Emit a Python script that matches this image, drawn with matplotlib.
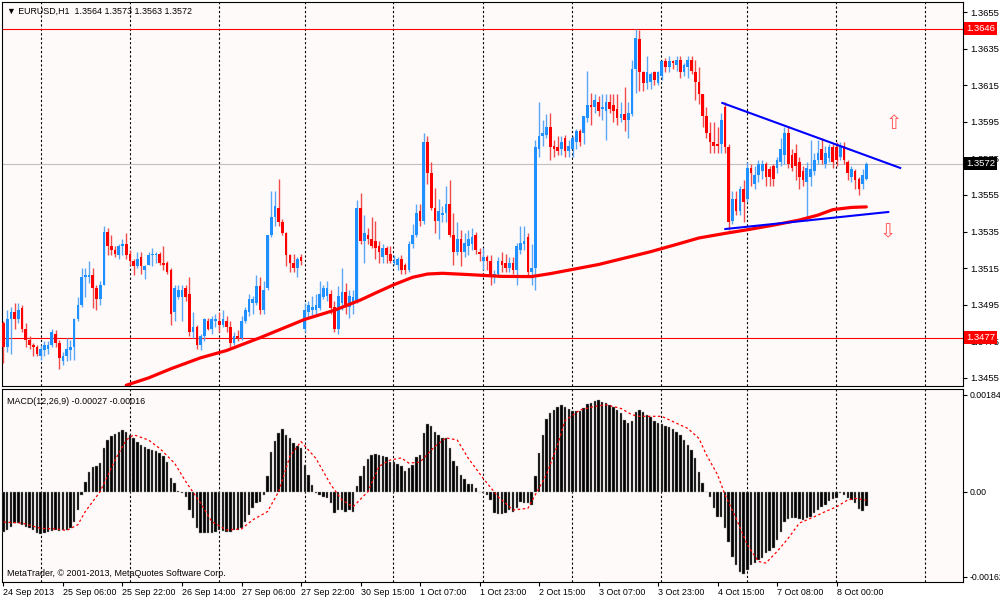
import numpy as np
import matplotlib
matplotlib.use("Agg")
import matplotlib.pyplot as plt
import matplotlib.transforms as mtransforms

plt.rcParams["font.family"] = ["Liberation Sans", "DejaVu Sans"]

# EURUSD H1, prices are written in pips above 1.3400
base = 1.3400

opens = [85, 72, 87, 91, 87, 93, 82, 76, 73, 72, 67, 70, 71, 73, 79, 74, 64, 67, 70, 72,
         87, 95, 110, 110, 111, 104, 98, 106, 135, 127, 125, 122, 127, 128, 123, 119, 116, 121, 114, 117,
         122, 122, 123, 118, 118, 114, 91, 99, 99, 104, 101, 80, 83, 73, 78, 86, 82, 86, 86, 84,
         86, 83, 74, 78, 77, 86, 91, 96, 96, 105, 92, 104, 133, 143, 148, 140, 134, 122, 118, 115,
         121, 82, 91, 92, 92, 93, 99, 100, 101, 94, 82, 96, 102, 94, 96, 97, 148, 130, 133, 131,
         130, 127, 121, 126, 123, 118, 117, 120, 117, 114, 128, 133, 146, 141, 184, 167, 148, 141, 144, 145,
         150, 133, 124, 131, 124, 127, 128, 133, 124, 119, 121, 119, 110, 112, 119, 118, 115, 118, 114, 125,
         128, 132, 113, 115, 180, 187, 188, 192, 182, 181, 180, 186, 179, 180, 184, 190, 189, 197, 204, 203,
         206, 202, 201, 206, 204, 202, 197, 199, 196, 199, 224, 240, 222, 216, 217, 222, 216, 220, 228, 225,
         228, 226, 229, 222, 225, 229, 222, 217, 210, 198, 189, 184, 183, 183, 203, 181, 141, 153, 146, 158,
         153, 170, 161, 166, 168, 172, 169, 171, 170, 173, 177, 189, 177, 178, 173, 168, 162, 165, 168, 174,
         180, 172, 175, 181, 181, 176, 182, 173, 165, 168, 164, 161, 164]
highs = [86, 92, 94, 96, 96, 95, 85, 78, 74, 73, 73, 75, 75, 82, 81, 76, 69, 77, 76, 88,
         99, 115, 115, 119, 115, 106, 108, 138, 137, 133, 127, 128, 131, 134, 125, 120, 124, 124, 117, 124,
         126, 124, 124, 127, 119, 115, 106, 106, 106, 106, 110, 91, 84, 79, 88, 88, 89, 90, 91, 92,
         89, 86, 80, 81, 89, 94, 101, 100, 111, 110, 108, 133, 157, 157, 164, 142, 135, 123, 123, 121,
         123, 96, 97, 100, 101, 108, 106, 108, 103, 97, 105, 115, 107, 103, 103, 152, 156, 144, 137, 143,
         141, 130, 128, 127, 127, 122, 121, 122, 118, 130, 139, 150, 150, 189, 187, 173, 159, 153, 149, 160,
         163, 145, 140, 136, 134, 136, 137, 135, 126, 126, 122, 122, 114, 121, 124, 123, 121, 121, 129, 138,
         138, 134, 128, 185, 206, 196, 199, 200, 185, 187, 187, 188, 185, 187, 191, 191, 198, 223, 211, 210,
         209, 210, 210, 210, 210, 210, 206, 214, 206, 229, 246, 245, 223, 231, 222, 223, 223, 229, 230, 231,
         229, 231, 231, 227, 231, 231, 229, 225, 210, 203, 195, 195, 192, 200, 206, 183, 157, 157, 160, 163,
         173, 172, 171, 174, 174, 173, 171, 172, 176, 186, 192, 192, 180, 183, 176, 171, 173, 185, 178, 185,
         186, 182, 183, 183, 184, 184, 184, 174, 171, 169, 165, 169, 173]
lows = [63, 69, 68, 82, 85, 80, 72, 71, 67, 67, 65, 67, 68, 72, 72, 60, 62, 64, 65, 65,
        86, 94, 99, 107, 93, 92, 95, 106, 122, 122, 121, 120, 122, 120, 117, 111, 115, 112, 109, 117,
        116, 118, 117, 114, 112, 84, 86, 98, 86, 97, 78, 77, 71, 70, 75, 81, 79, 83, 80, 83,
        80, 72, 73, 75, 76, 85, 89, 90, 95, 90, 90, 103, 132, 138, 138, 133, 116, 113, 113, 110,
        117, 80, 88, 89, 89, 92, 98, 97, 90, 80, 79, 92, 90, 88, 90, 96, 128, 118, 128, 126,
        120, 118, 118, 118, 118, 117, 114, 112, 112, 113, 126, 132, 138, 139, 161, 147, 134, 131, 140, 140,
        132, 117, 122, 116, 121, 122, 125, 123, 119, 114, 114, 106, 107, 110, 113, 113, 113, 112, 106, 123,
        125, 110, 106, 103, 176, 182, 186, 174, 176, 177, 177, 176, 176, 176, 180, 182, 183, 195, 193, 200,
        198, 196, 185, 200, 195, 193, 195, 190, 186, 198, 211, 212, 212, 213, 213, 215, 215, 218, 222, 222,
        224, 223, 219, 220, 219, 221, 207, 205, 192, 186, 178, 178, 178, 178, 178, 136, 139, 144, 144, 140,
        151, 160, 158, 162, 164, 160, 160, 160, 167, 171, 172, 170, 168, 163, 158, 160, 141, 160, 166, 172,
        172, 170, 173, 170, 171, 174, 172, 163, 162, 158, 155, 158, 163]
closes = [72, 87, 91, 87, 92, 82, 76, 73, 72, 68, 71, 73, 73, 80, 74, 66, 67, 71, 72, 87,
          95, 110, 111, 111, 104, 98, 106, 135, 127, 125, 123, 127, 128, 122, 119, 116, 120, 116, 116, 122,
          123, 123, 118, 117, 113, 90, 104, 103, 103, 99, 80, 83, 73, 78, 87, 82, 87, 87, 84, 87,
          83, 74, 78, 77, 86, 92, 98, 98, 105, 92, 103, 133, 143, 149, 140, 134, 122, 118, 115, 120,
          119, 92, 95, 94, 95, 101, 104, 104, 93, 82, 100, 102, 95, 100, 99, 148, 130, 134, 131, 127,
          126, 124, 126, 122, 119, 119, 120, 114, 114, 128, 133, 145, 141, 184, 167, 148, 141, 146, 145, 150,
          133, 124, 131, 124, 129, 131, 132, 125, 123, 121, 119, 110, 112, 119, 117, 115, 118, 114, 127, 129,
          130, 113, 115, 181, 187, 189, 192, 181, 180, 179, 184, 179, 182, 186, 190, 184, 198, 204, 203, 207,
          201, 203, 206, 202, 201, 197, 199, 196, 200, 224, 241, 222, 216, 222, 221, 218, 222, 228, 225, 228,
          227, 229, 222, 226, 229, 223, 217, 210, 198, 189, 184, 182, 182, 196, 181, 140, 153, 146, 158, 151,
          170, 167, 166, 172, 172, 165, 165, 164, 174, 180, 189, 172, 170, 171, 165, 163, 170, 169, 174, 178,
          174, 178, 181, 173, 174, 182, 174, 167, 169, 163, 158, 166, 172]

# thick red moving average, read at a few bars
ma_bars = [33, 36, 39, 45, 53, 60, 69, 81, 89, 96, 100, 105, 110, 114, 118, 125, 134, 142, 147,
           153, 160, 167, 174, 181, 187, 194, 200, 207, 214, 219, 223, 228, 232]
ma_vals = [51, 53, 55, 60, 66, 70, 77, 87, 92, 97.6, 101.4, 106, 110, 111.8, 112.2, 111.5, 110.5, 110.4, 112,
           114.3, 117, 120.5, 124, 128, 131.5, 134, 136, 138.5, 141.3, 144, 147, 148.2, 148.5]

# triangle trendlines (bar, pips)
trend_top_bars = [193.3, 241.1]
trend_top_vals = [205.3, 169.8]
trend_low_bars = [194.1, 237.9]
trend_low_vals = [136.4, 145.7]

# MACD main (histogram), in 1e-5
macd_hist = [-76, -73, -67, -60, -60, -63, -67, -70, -73, -79, -81, -79, -76, -75, -73, -75, -74, -74, -70, -57,
             -35, -6, 19, 37, 46, 48, 54, 82, 98, 105, 109, 114, 117, 113, 108, 101, 94, 89, 84, 81,
             79, 77, 73, 67, 57, 25, 16, 1, -3, -10, -35, -51, -70, -79, -79, -79, -79, -76, -73, -75,
             -76, -76, -74, -73, -70, -57, -44, -32, -22, -19, -6, 29, 76, 96, 111, 119, 108, 101, 92, 86,
             82, 51, 32, 13, -3, -6, -10, -13, -22, -41, -35, -35, -38, -35, -38, 10, 29, 48, 62, 70,
             71, 70, 68, 65, 57, 56, 53, 48, 39, 44, 51, 65, 70, 111, 128, 124, 113, 107, 101, 101,
             82, 58, 48, 32, 24, 15, 14, 6, -1, -3, -6, -16, -41, -43, -43, -41, -35, -38, -32, -19,
             -22, -22, -25, 29, 73, 108, 138, 149, 155, 160, 164, 160, 157, 154, 153, 153, 159, 166, 168, 172,
             174, 171, 168, 164, 160, 155, 149, 136, 130, 134, 152, 155, 151, 145, 141, 134, 130, 128, 124, 122,
             119, 114, 107, 98, 89, 79, 63, 38, 16, -1, -10, -32, -48, -49, -70, -95, -124, -139, -153, -157,
             -149, -139, -136, -130, -126, -117, -114, -108, -92, -76, -57, -52, -51, -51, -52, -54, -51, -48, -41, -35,
             -30, -25, -18, -14, -13, -3, -6, -13, -16, -22, -33, -37, -27]

# MACD signal (dashed), in 1e-5
sig_bars = [0, 5, 10, 14, 17, 20, 22, 26, 30, 33, 35, 39, 42, 46, 49, 53, 56, 60, 64, 67,
            71, 74, 77, 80, 84, 88, 91, 94, 98, 101, 104, 107, 109, 112, 116, 119, 122, 125, 129, 133,
            137, 141, 143, 146, 149, 151, 155, 159, 162, 166, 169, 171, 177, 180, 184, 187, 189, 192, 194, 197,
            200, 203, 205, 208, 211, 214, 218, 221, 224, 227, 229, 232]
sig_vals = [-58, -60, -70, -71, -74, -63, -38, 0, 60, 98, 108, 98, 82, 54, 19, -22, -57, -73, -71, -54,
            -38, 0, 67, 95, 63, 13, -16, -29, 0, 48, 60, 64, 54, 56, 86, 102, 98, 63, 25, -10,
            -35, -32, -6, 32, 89, 135, 155, 162, 165, 158, 146, 143, 143, 133, 120, 101, 70, 32, -6, -51,
            -101, -133, -136, -114, -89, -60, -48, -38, -29, -16, -13, -16]

label_bars = [0, 16, 32, 48, 64, 80, 96, 112, 128, 144, 160, 176, 192, 208, 224]
label_text = ["24 Sep 2013", "25 Sep 06:00", "25 Sep 22:00", "26 Sep 14:00", "27 Sep 06:00",
              "27 Sep 22:00", "30 Sep 15:00", "1 Oct 07:00", "1 Oct 23:00", "2 Oct 15:00",
              "3 Oct 07:00", "3 Oct 23:00", "4 Oct 15:00", "7 Oct 08:00", "8 Oct 00:00"]
grid_bars = [10.1, 34, 57.9, 81, 104.8, 128.9, 152.9, 176.9, 199.9, 223.9, 247.8]

price_ticks = [1.3455, 1.3475, 1.3495, 1.3515, 1.3535, 1.3555, 1.3575, 1.3595, 1.3615, 1.3635, 1.3655]
level_hi = 1.3646
level_lo = 1.3477
bid = 1.3572

def px(v):
    return base + np.asarray(v, dtype=float) * 0.0001

o = px(opens); h = px(highs); l = px(lows); c = px(closes)
x = np.arange(len(closes))
up = c >= o

fig = plt.figure(figsize=(10, 6), dpi=100, facecolor="white")
ax = fig.add_axes([0.002, 0.3567, 0.961, 0.64])
ax2 = fig.add_axes([0.002, 0.03, 0.961, 0.3217], sharex=ax)
for a in (ax, ax2):
    a.set_facecolor("#fffafa")
    for s in a.spines.values():
        s.set_color("black")
        s.set_linewidth(0.8)
    for g in grid_bars:
        a.axvline(g, color="black", lw=0.8, ls=(0, (2, 2)), zorder=1)

# candles
wick_col = np.where(up, "#5aa8f5", "#f04a4a")
body_col = np.where(up, "#1e90ff", "#ff0000")
ax.vlines(x, l, h, colors=wick_col, lw=1, zorder=3)
ax.bar(x, np.maximum(np.abs(c - o), 0.00003), bottom=np.minimum(o, c), width=0.72,
       color=body_col, linewidth=0, zorder=4)

ax.plot(ma_bars, px(ma_vals), color="red", lw=2.3, solid_capstyle="round", zorder=5)
ax.plot(trend_top_bars, px(trend_top_vals), color="#0000ff", lw=1.5, zorder=6)
ax.plot(trend_low_bars, px(trend_low_vals), color="#0000ff", lw=1.5, zorder=6)

ax.axhline(level_hi, color="red", lw=0.8, zorder=2)
ax.axhline(level_lo, color="red", lw=0.8, zorder=2)
ax.axhline(bid, color="#c0c0c0", lw=0.8, zorder=2)

ax.text(239.5, px(194.3), "\u21e7", color="#ff5a5a", fontsize=14, ha="center", va="center",
        family="DejaVu Sans", zorder=6)
ax.text(237.9, px(134.8), "\u21e9", color="#ff5a5a", fontsize=14, ha="center", va="center",
        family="DejaVu Sans", zorder=6)

ax.set_xlim(-0.4, 258)
ax.set_ylim(1.34506, 1.36605)
ax.yaxis.tick_right()
ax.set_yticks(price_ticks)
ax.set_yticklabels([f"{t:.4f}" for t in price_ticks])
ax.tick_params(axis="y", direction="out", length=3, labelsize=6.8, pad=2)
ax.tick_params(axis="x", which="both", bottom=False, labelbottom=False)

tr = mtransforms.blended_transform_factory(ax.transAxes, ax.transData)
for val, fc in ((level_hi, "red"), (level_lo, "red"), (bid, "black")):
    ax.text(1.003, val, f"{val:.4f}", transform=tr, color="white", fontsize=6.8, ha="left", va="center",
            bbox=dict(boxstyle="square,pad=0.2", fc=fc, ec="none"), zorder=10, clip_on=False)

ax.text(0.005, 0.988, "\u25bc EURUSD,H1  1.3564 1.3573 1.3563 1.3572", transform=ax.transAxes,
        fontsize=6.4, va="top", ha="left")

# MACD panel
hist = np.asarray(macd_hist) * 1e-5
ax2.bar(x, hist, width=0.65, color="black", edgecolor="#9a9a9a", linewidth=0.3, zorder=3)
ax2.plot(sig_bars, np.asarray(sig_vals) * 1e-5, color="red", lw=0.9, ls=(0, (2, 2)), zorder=4)
ax2.set_ylim(-0.00172, 0.00195)
ax2.yaxis.tick_right()
ax2.set_yticks([0.00184, 0.0, -0.00162])
ax2.set_yticklabels(["0.00184", "0.00", "-0.00162"])
ax2.tick_params(axis="y", direction="out", length=3, labelsize=6.3, pad=2)
ax2.set_xticks(label_bars)
ax2.set_xticklabels(label_text)
plt.setp(ax2.get_xticklabels(), ha="left")
ax2.tick_params(axis="x", direction="out", length=3, labelsize=6.4, pad=1)

ax2.text(0.005, 0.96, "MACD(12,26,9) -0.00027 -0.00016", transform=ax2.transAxes,
         fontsize=6.4, va="top", ha="left")
ax2.text(0.005, 0.02, "MetaTrader, \u00a9 2001-2013, MetaQuotes Software Corp.", transform=ax2.transAxes,
         fontsize=6.4, va="bottom", ha="left")

fig.savefig("out.png", dpi=100, facecolor=fig.get_facecolor())
